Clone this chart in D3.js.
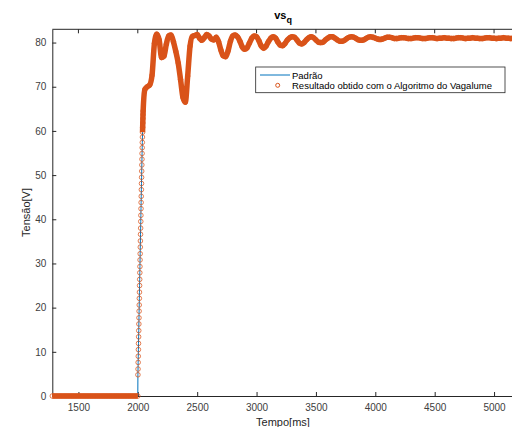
<!DOCTYPE html>
<html>
<head>
<meta charset="utf-8">
<script src="https://cdn.jsdelivr.net/npm/d3@7"></script>
<style>
  body { margin: 0; background: #fff; }
  svg { display: block; font-family: "Liberation Sans", Arial, Helvetica, sans-serif; }
</style>
</head>
<body>
<div id="svg_container"></div>
<script>

// Dados lidos do gráfico vs_q
// trecho em zero antes do degrau: amostras a cada 20 ms (1280 ... 1980)
const tempoInicio = 1280;
const passoAntes = 20;
const vsqAntes = [0, 0, 0, 0, 0, 0, 0, 0, 0, 0, 0, 0, 0, 0, 0, 0, 0, 0,
                  0, 0, 0, 0, 0, 0, 0, 0, 0, 0, 0, 0, 0, 0, 0, 0, 0, 0];

// subida logo após o degrau: amostras a cada 1 ms (2000 ... 2045)
const tempoSubida = 2000;
const passoSubida = 1;
const vsqSubida = [0, 4.8, 6.1, 7.6, 9.0, 10.5, 11.9, 13.4, 14.8, 16.3,
                   17.7, 19.2, 20.6, 22.1, 23.5, 25.0, 26.4, 27.9, 29.3, 30.8,
                   32.2, 33.7, 35.1, 36.6, 38.0, 39.5, 40.9, 42.4, 43.8, 45.2,
                   46.7, 48.1, 49.5, 50.9, 52.3, 53.6, 54.9, 56.2, 57.4, 58.6,
                   59.7, 60.8, 61.8, 62.8, 63.7, 64.5];

// oscilação e regime: amostras a cada 20 ms (2060 ... 5180)
const tempoRegime = 2060;
const passoRegime = 20;
const vsqRegime = [
  69.4, 70.0, 70.4, 72.6, 79.8, 81.9, 80.6, 76.6, 76.9, 79.6,
  81.5, 81.7, 80.2, 78.0, 75.4, 71.6, 67.6, 66.5, 72.4, 79.2,
  81.4, 81.6, 81.8, 81.0, 80.5, 81.1, 81.8, 81.5, 80.8, 80.6,
  81.2, 80.2, 78.3, 77.0, 76.8, 78.1, 80.3, 81.5, 81.7, 81.3,
  80.3, 79.0, 78.5, 78.8, 79.9, 81.0, 81.5, 81.3, 80.4, 79.2,
  78.7, 79.2, 80.2, 81.0, 81.3, 81.0, 80.1, 79.4, 79.3, 79.8,
  80.6, 81.1, 81.3, 81.2, 80.6, 79.9, 79.7, 80.0, 80.6, 81.1,
  81.3, 81.1, 80.6, 80.1, 80.0, 80.1, 80.6, 81.0, 81.3, 81.3,
  81.0, 80.6, 80.3, 80.3, 80.5, 80.9, 81.2, 81.3, 81.2, 80.9,
  80.6, 80.5, 80.6, 80.9, 81.2, 81.3, 81.2, 81.0, 80.8, 80.7,
  80.8, 81.0, 81.2, 81.2, 81.1, 80.9, 80.9, 81.0, 81.1, 81.1,
  81.0, 80.9, 80.9, 81.0, 81.1, 81.1, 81.0, 80.9, 80.9, 81.0,
  81.1, 81.1, 81.0, 80.9, 81.0, 81.0, 81.1, 81.0, 81.0, 80.9,
  80.9, 81.0, 81.1, 81.1, 81.0, 80.9, 81.0, 81.0, 81.1, 81.0,
  81.0, 80.9, 80.9, 81.0, 81.1, 81.1, 81.0, 81.0, 80.9, 81.0,
  81.0, 81.1, 81.0, 81.0, 80.9, 81.0, 81.0
];

// Eixos
const xTicks = [1500, 2000, 2500, 3000, 3500, 4000, 4500, 5000];
const yTicks = [0, 10, 20, 30, 40, 50, 60, 70, 80];
const xDominio = [1280, 5168];
const yDominio = [0, 83];

const legendas = ['Padrão', 'Resultado obtido com o Algoritmo do Vagalume'];

// Monta a série (tempo, tensão)
let dados = [];
vsqAntes.forEach((v, i) => dados.push({ t: tempoInicio + i * passoAntes, v: v }));
vsqSubida.forEach((v, i) => dados.push({ t: tempoSubida + i * passoSubida, v: v }));
vsqRegime.forEach((v, i) => dados.push({ t: tempoRegime + i * passoRegime, v: v }));

const azul = '#0072BD';
const laranja = '#D95319';
const cinza = '#262626';

let width = 512;
let height = 427;

let svg = d3.select('#svg_container')
            .append('svg')
            .attr('width', width)
            .attr('height', height);

let xScale = d3.scaleLinear().domain(xDominio).range([52.3, 514]);
let yScale = d3.scaleLinear().domain(yDominio).range([396, 29.3]);

// Borda superior
svg.append('line')
   .attr('x1', 52.3).attr('x2', 514)
   .attr('y1', 29.3).attr('y2', 29.3)
   .attr('stroke', cinza).attr('stroke-width', 1);

svg.append('g')
   .attr('transform', 'translate(0, 29.3)')
   .selectAll('line')
   .data(xTicks)
   .enter()
   .append('line')
   .attr('x1', d => xScale(d)).attr('x2', d => xScale(d))
   .attr('y1', 0).attr('y2', 4)
   .attr('stroke', cinza);

// Eixo X
let xAxis = d3.axisBottom(xScale)
              .tickValues(xTicks)
              .tickSizeInner(-4)
              .tickSizeOuter(0)
              .tickPadding(7.5)
              .tickFormat(d3.format('d'));

let gx = svg.append('g')
   .attr('transform', 'translate(0, 396)')
   .call(xAxis);

// Eixo Y
let yAxis = d3.axisLeft(yScale)
              .tickValues(yTicks)
              .tickSizeInner(-4)
              .tickSizeOuter(0)
              .tickPadding(6)
              .tickFormat(d3.format('d'));

let gy = svg.append('g')
   .attr('transform', 'translate(52.3, 0)')
   .call(yAxis);

[gx, gy].forEach(g => {
  g.select('.domain').attr('stroke', cinza);
  g.selectAll('.tick line').attr('stroke', cinza);
  g.selectAll('.tick text')
   .attr('fill', '#404040')
   .style('font-size', '10px')
   .style('font-family', '"Liberation Sans", Arial, sans-serif');
});

// Curva padrão (linha azul)
let linha = d3.line()
              .x(d => xScale(d.t))
              .y(d => yScale(d.v));

svg.append('path')
   .datum(dados)
   .attr('fill', 'none')
   .attr('stroke', azul)
   .attr('stroke-width', 1)
   .attr('d', linha);

// Resultado: marcadores muito densos formam uma faixa
let faixa = d3.line()
              .defined(d => d.t <= 2000 || d.t >= 2040)
              .curve(d3.curveMonotoneX)
              .x(d => xScale(d.t))
              .y(d => yScale(d.v));

svg.append('path')
   .datum(dados)
   .attr('fill', 'none')
   .attr('stroke', laranja)
   .attr('stroke-width', 5.5)
   .attr('stroke-linejoin', 'round')
   .attr('d', faixa);

svg.append('g')
   .selectAll('circle')
   .data(dados)
   .enter()
   .append('circle')
   .attr('cx', d => xScale(d.t))
   .attr('cy', d => yScale(d.v))
   .attr('r', 2.3)
   .attr('fill', 'none')
   .attr('stroke', laranja)
   .attr('stroke-opacity', 0.75)
   .attr('stroke-width', 1);

// Título
let titulo = svg.append('text')
   .attr('x', 283)
   .attr('y', 19)
   .attr('text-anchor', 'middle')
   .attr('fill', '#000')
   .style('font-size', '11px')
   .style('font-weight', 'bold');
titulo.append('tspan').text('vs');
titulo.append('tspan').attr('dy', 4).style('font-size', '9px').text('q');

// Rótulos dos eixos
svg.append('text')
   .attr('x', 283)
   .attr('y', 426)
   .attr('text-anchor', 'middle')
   .attr('fill', cinza)
   .style('font-size', '11px')
   .text('Tempo[ms]');

svg.append('text')
   .attr('transform', 'translate(30, 212.5) rotate(-90)')
   .attr('text-anchor', 'middle')
   .attr('fill', cinza)
   .style('font-size', '11px')
   .text('Tensão[V]');

// Legenda
let leg = svg.append('g');

leg.append('rect')
   .attr('x', 255.7).attr('y', 67)
   .attr('width', 249.3).attr('height', 25.7)
   .attr('fill', '#fff')
   .attr('stroke', cinza)
   .attr('stroke-width', 0.8);

leg.append('line')
   .attr('x1', 260).attr('x2', 290)
   .attr('y1', 75).attr('y2', 75)
   .attr('stroke', azul).attr('stroke-width', 1);

leg.append('circle')
   .attr('cx', 277.7).attr('cy', 85.3)
   .attr('r', 2)
   .attr('fill', 'none')
   .attr('stroke', laranja);

leg.selectAll('text.item')
   .data(legendas)
   .enter()
   .append('text')
   .attr('class', 'item')
   .attr('x', 292)
   .attr('y', (d, i) => 78.5 + i * 10.3)
   .attr('fill', '#000')
   .style('font-size', '9.5px')
   .text(d => d);

</script>
</body>
</html>
